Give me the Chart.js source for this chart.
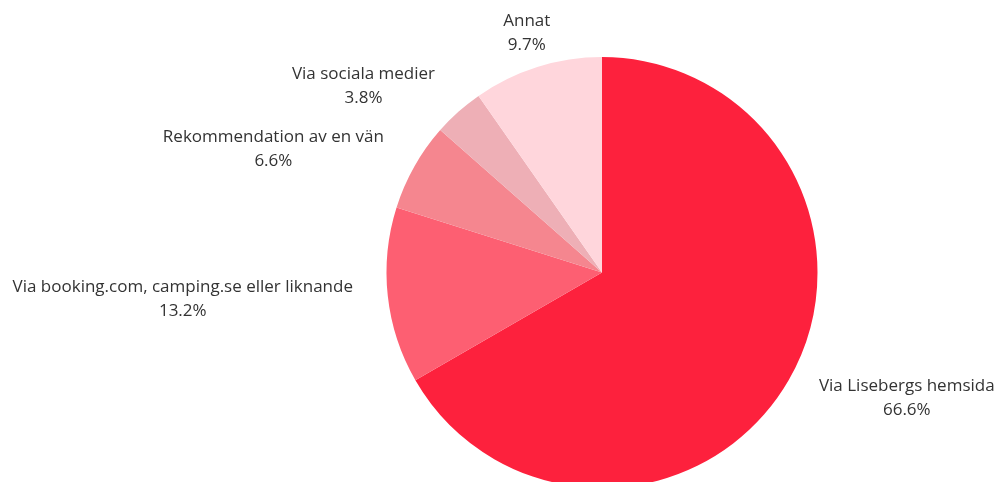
<!DOCTYPE html>
<html lang="sv">
<head>
    <meta charset="UTF-8">
    <title>Hur bokade du?</title>
    <style>
        html, body {
            margin: 0;
            padding: 0;
            background: #fff;
            overflow: hidden;
        }
        #wrap {
            position: relative;
            width: 997px;
            height: 488px;
        }
    </style>
</head>
<body>
    <div id="wrap">
        <canvas id="pieChart"></canvas>
    </div>

    <script src="https://cdn.jsdelivr.net/npm/chart.js"></script>
    <script>
        const labels = [
            'Via Lisebergs hemsida',
            'Via booking.com, camping.se eller liknande',
            'Rekommendation av en vän',
            'Via sociala medier',
            'Annat'
        ];
        const shares = [66.6, 13.2, 6.6, 3.8, 9.7];
        const colors = ['#FD213D', '#FD5F72', '#F5868F', '#EEAFB6', '#FFD6DC'];

        // outside labels, text anchored at the slice's mid angle
        const outsideLabels = {
            id: 'outsideLabels',
            afterDatasetsDraw(chart) {
                const ctx = chart.ctx;
                const meta = chart.getDatasetMeta(0);
                ctx.save();
                ctx.font = '17px "Open Sans"';
                ctx.fillStyle = '#333333';
                ctx.textBaseline = 'middle';
                meta.data.forEach((arc, i) => {
                    const mid = (arc.startAngle + arc.endAngle) / 2;
                    const R = arc.outerRadius + 35;
                    const x = arc.x + Math.cos(mid) * R;
                    const y = arc.y + Math.sin(mid) * R;
                    const lines = [labels[i], shares[i].toFixed(1) + '%'];
                    const w = Math.max(...lines.map(t => ctx.measureText(t).width));
                    let cx;
                    if (Math.abs(Math.cos(mid)) < 0.4) cx = x;
                    else if (Math.cos(mid) < 0) cx = x - w / 2;
                    else cx = x + w / 2;
                    ctx.textAlign = 'center';
                    ctx.fillText(lines[0], cx, y - 12);
                    ctx.fillText(lines[1], cx, y + 12);
                });
                ctx.restore();
            }
        };

        new Chart(document.getElementById('pieChart'), {
            type: 'pie',
            data: {
                labels: labels,
                datasets: [{
                    data: shares,
                    backgroundColor: colors,
                    borderWidth: 0
                }]
            },
            options: {
                responsive: true,
                maintainAspectRatio: false,
                animation: false,
                layout: {
                    padding: { top: 57, bottom: 0, left: 207, right: 0 }
                },
                plugins: {
                    legend: { display: false },
                    tooltip: { enabled: false }
                }
            },
            plugins: [outsideLabels]
        });
    </script>
</body>
</html>
